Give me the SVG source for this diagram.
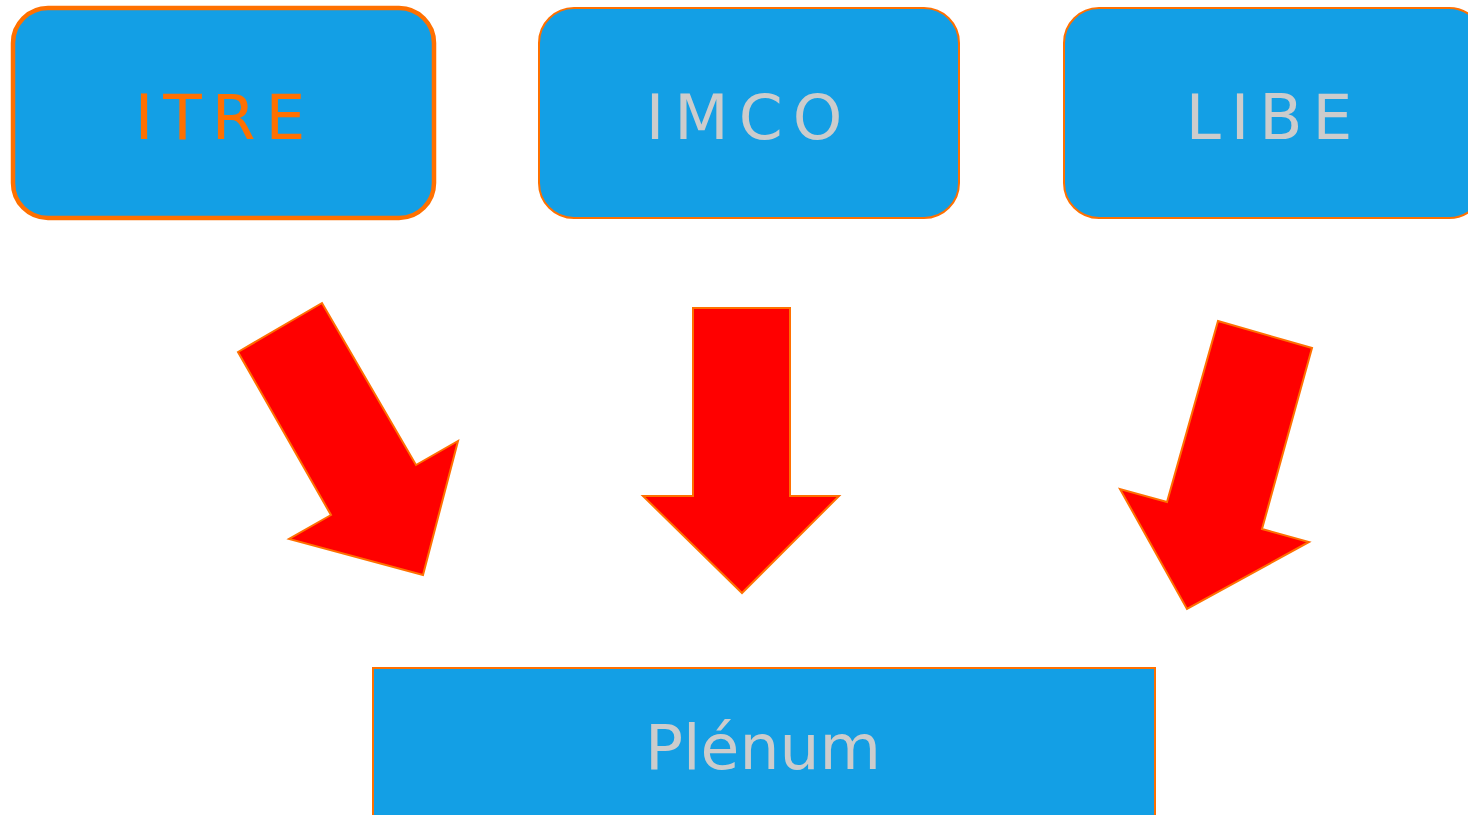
<svg xmlns="http://www.w3.org/2000/svg" width="1468" height="815" viewBox="0 0 1468 815">
<style>
.box{fill:#139fe5;stroke:#ff7000;stroke-width:2}
.sel{stroke-width:4.5}
.lbl{font-family:"DejaVu Sans",Verdana,sans-serif;font-size:63px;fill:#cccccc;text-anchor:middle;letter-spacing:10px}
.lbl.o{fill:#ff7000}
.plen{font-family:"DejaVu Sans",Verdana,sans-serif;font-size:63px;fill:#cccccc}
.arrow{fill:#ff0000;stroke:#ff7000;stroke-width:2;stroke-linejoin:miter}
</style>
<rect width="1468" height="815" fill="#ffffff"/>
<g id="itre">
<rect class="box sel" x="13" y="8" width="421" height="210" rx="35"/>
<text class="lbl o" x="225" y="139">ITRE</text>
</g>
<g id="imco">
<rect class="box" x="539" y="8" width="420" height="210" rx="35"/>
<text class="lbl" x="749" y="139">IMCO</text>
</g>
<g id="libe">
<rect class="box" x="1064" y="8" width="420" height="210" rx="35"/>
<text class="lbl" x="1274" y="139">LIBE</text>
</g>
<g id="plenum">
<rect class="box" x="373" y="668" width="782" height="160"/>
<text class="plen" x="645" y="769" textLength="236" lengthAdjust="spacingAndGlyphs">Plénum</text>
</g>
<g id="connectors">
<polygon class="arrow" points="322,303 238,352 331,515 289,539 423,575 458,441 416,465"/>
<polygon class="arrow" points="693,308 790,308 790,496 839,496 742,593 643,496 693,496"/>
<polygon class="arrow" points="1218,321 1312,348 1262,529 1309,542 1187,609 1120,489 1167,502"/>
</g>
</svg>
